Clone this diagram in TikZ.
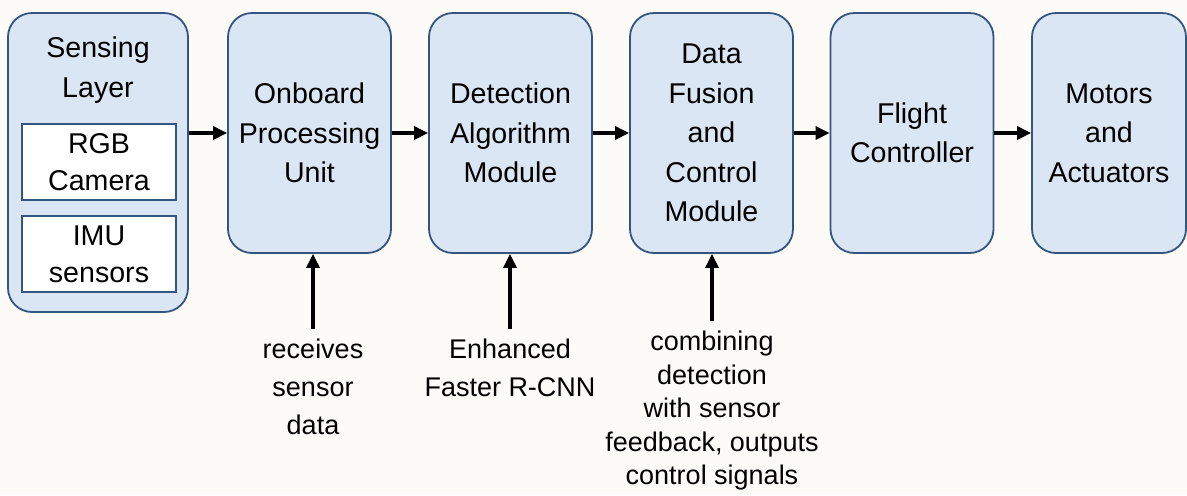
\documentclass[tikz,border=0pt]{standalone}
\usepackage{fontspec}
\setmainfont{Liberation Sans}
\usetikzlibrary{arrows.meta}
\definecolor{kutuMavi}{HTML}{DAE6F4}
\definecolor{kenarMavi}{HTML}{34557F}
\definecolor{zeminKrem}{HTML}{FCFBF7}

\begin{document}
\begin{tikzpicture}[x=0.5pt,y=-0.5pt,
  blok/.style={draw=kenarMavi,fill=kutuMavi,line width=0.9pt,rounded corners=12pt,
    align=center,inner sep=0pt,minimum width=81.5pt,minimum height=120pt,
    font=\fontsize{14.3}{19.75}\selectfont},
  ickutu/.style={draw=kenarMavi,fill=white,line width=0.9pt,align=center,inner sep=0pt,
    minimum width=77pt,minimum height=38pt,font=\fontsize{14.3}{18.5}\selectfont},
  altyazi/.style={align=center,inner sep=5pt,anchor=north,font=\fontsize{13.5}{19}\selectfont},
  ok/.style={line width=1.6pt,-{Triangle[length=7pt,width=6.5pt]}}]
\fill[zeminKrem] (0,0) rectangle (1187,495);
\useasboundingbox (0,0) rectangle (1187,495);
% sensing layer
\node[blok,minimum width=90pt,minimum height=149.5pt] (sens) at (98,162.5) {};
\node[font=\fontsize{14.3}{19.75}\selectfont,align=center] (sensbaslik) at (98,70) {Sensing\\Layer};
\node[ickutu] (rgb) at (99,162) {RGB\\Camera};
\node[ickutu] (imu) at (99,254) {IMU\\sensors};
% ana bloklar
\node[blok] (onb) at (309.5,133) {Onboard\\Processing\\Unit};
\node[blok] (det) at (510.5,133) {Detection\\Algorithm\\Module};
\node[blok] (fus) at (711.5,133) {Data\\Fusion\\and\\Control\\Module};
\node[blok] (flc) at (912,133) {Flight\\Controller};
\node[blok,minimum width=77pt] (mot) at (1109,133) {Motors\\and\\Actuators};
\draw[ok] (sens.east |- onb.west) -- (onb.west);
\draw[ok] (onb) -- (det);
\draw[ok] (det) -- (fus);
\draw[ok] (fus) -- (flc);
\draw[ok] (flc) -- (mot);
% alt aciklamalar
\node[altyazi] (alt1) at (313,329) {receives\\sensor\\data};
\node[altyazi] (alt2) at (510,329) {Enhanced\\Faster R-CNN};
\node[altyazi,font=\fontsize{13.5}{16.75}\selectfont] (alt3) at (712,321) {combining\\detection\\with sensor\\feedback, outputs\\control signals};
\draw[ok] (alt1.north) -- (alt1.north |- onb.south);
\draw[ok] (alt2.north) -- (alt2.north |- det.south);
\draw[ok] (alt3.north) -- (alt3.north |- fus.south);
\end{tikzpicture}
\end{document}
